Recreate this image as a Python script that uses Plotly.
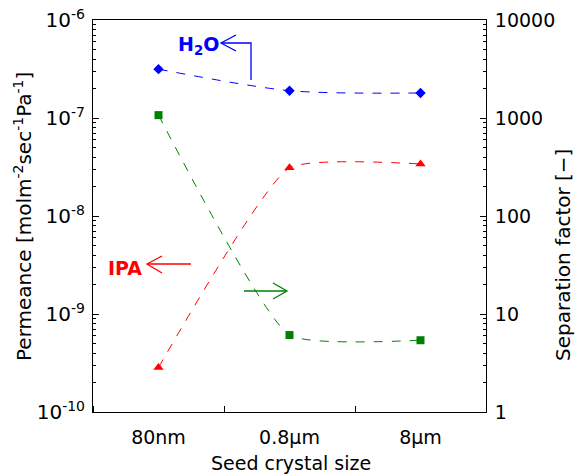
import plotly.graph_objects as go

categories = ["80nm", "0.8µm", "8µm"]
h2o_permeance = [3.15e-7, 1.9e-7, 1.8e-7]
ipa_permeance = [2.85e-10, 3.1e-8, 3.4e-8]
separation_factor = [1070, 6.1, 5.4]
perm_tickvals = [1e-10, 1e-9, 1e-8, 1e-7, 1e-6]
perm_ticktext = ["10<sup>-10</sup>", "10<sup>-9</sup>", "10<sup>-8</sup>", "10<sup>-7</sup>", "10<sup>-6</sup>"]
sep_tickvals = [1, 10, 100, 1000, 10000]
sep_ticktext = ["1", "10", "100", "1000", "10000"]

xs = list(range(len(categories)))
FONT = "DejaVu Sans, sans-serif"
W, H = 577, 475
L, R, T, B = 93, 486, 20, 412


def px(x):
    return (x - L) / (R - L)


def py(y):
    return (B - y) / (B - T)


fig = go.Figure()
fig.add_trace(go.Scatter(x=xs, y=h2o_permeance, mode="lines+markers", yaxis="y",
                         line=dict(color="#0000FF", dash="dash", shape="spline", smoothing=0.8, width=1),
                         marker=dict(symbol="diamond", size=8, color="#0000FF"), showlegend=False))
fig.add_trace(go.Scatter(x=xs, y=ipa_permeance, mode="lines+markers", yaxis="y",
                         line=dict(color="#FF0000", dash="dash", shape="spline", smoothing=0.45, width=1),
                         marker=dict(symbol="triangle-up", size=9, color="#FF0000"), showlegend=False))
fig.add_trace(go.Scatter(x=xs, y=separation_factor, mode="lines+markers", yaxis="y2",
                         line=dict(color="#008000", dash="dash", shape="spline", smoothing=0.45, width=1),
                         marker=dict(symbol="square", size=8, color="#008000"), showlegend=False))

ax_common = dict(showline=True, linecolor="black", linewidth=1, showgrid=False, zeroline=False,
                 automargin=False)
tickfont = dict(family=FONT, size=19, color="black")

fig.update_layout(
    width=W, height=H,
    margin=dict(l=L, r=W - R, t=T, b=H - B),
    plot_bgcolor="white", paper_bgcolor="white",
    font=dict(family=FONT, color="black"),
    xaxis=dict(**ax_common, tickfont=tickfont, range=[-0.5, 2.5], tickvals=xs, ticktext=categories,
               ticks="", mirror=True, ticklabelstandoff=8,
               minor=dict(ticks="inside", tick0=0.5, dtick=1, ticklen=6, tickcolor="black")),
    yaxis=dict(**ax_common, tickfont=dict(family=FONT, size=20, color="black"),
               type="log", range=[-10, -6], tickvals=perm_tickvals, ticktext=perm_ticktext,
               ticks="inside", ticklen=6, tickcolor="black", ticklabelstandoff=3,
               minor=dict(ticks="inside", dtick="D1", ticklen=3, tickcolor="black", showgrid=False)),
    yaxis2=dict(**ax_common, tickfont=tickfont, type="log", range=[0, 4], overlaying="y", side="right",
                tickvals=sep_tickvals, ticktext=sep_ticktext,
                ticks="inside", ticklen=6, tickcolor="black", ticklabelstandoff=4,
                minor=dict(ticks="inside", dtick="D1", ticklen=3, tickcolor="black", showgrid=False)),
)


def label(x, y, text, size, color="black", angle=0):
    fig.add_annotation(xref="paper", yref="paper", x=px(x), y=py(y), text=text, showarrow=False,
                       xanchor="center", yanchor="middle", textangle=angle,
                       font=dict(family=FONT, size=size, color=color))


# Axis titles
label(23, 217, "Permeance [molm<sup>-2</sup>sec<sup>-1</sup>Pa<sup>-1</sup>]", 20, angle=-90)
label(563, 255, "Separation factor [−]", 20, angle=-90)
label(291, 463, "Seed crystal size", 19)

# Series labels
label(198, 45, "<b>H<sub>2</sub>O</b>", 19, "#0000FF")
label(125, 268, "<b>IPA</b>", 19, "#FF0000")


def path(points):
    return "M " + " L ".join(f"{px(a)},{py(b)}" for a, b in points)


# H2O arrow (left axis)
fig.add_shape(type="path", xref="paper", yref="paper",
              path=path([(251, 80), (251, 43), (221, 43)]), line=dict(color="#0000FF", width=1.3))
fig.add_shape(type="path", xref="paper", yref="paper",
              path=path([(236, 35), (221, 43), (236, 51)]), line=dict(color="#0000FF", width=1.3))
# IPA arrow (left axis)
fig.add_shape(type="path", xref="paper", yref="paper",
              path=path([(191, 264), (147, 264)]), line=dict(color="#FF0000", width=1.3))
fig.add_shape(type="path", xref="paper", yref="paper",
              path=path([(162, 256), (147, 264), (162, 273)]), line=dict(color="#FF0000", width=1.3))
# Separation factor arrow (right axis)
fig.add_shape(type="path", xref="paper", yref="paper",
              path=path([(244, 291), (287, 291)]), line=dict(color="#008000", width=1.3))
fig.add_shape(type="path", xref="paper", yref="paper",
              path=path([(273, 283), (287, 291), (273, 299)]), line=dict(color="#008000", width=1.3))

fig.write_html("out.html", config={"displayModeBar": False},
               post_script="document.body.style.margin='0';")
